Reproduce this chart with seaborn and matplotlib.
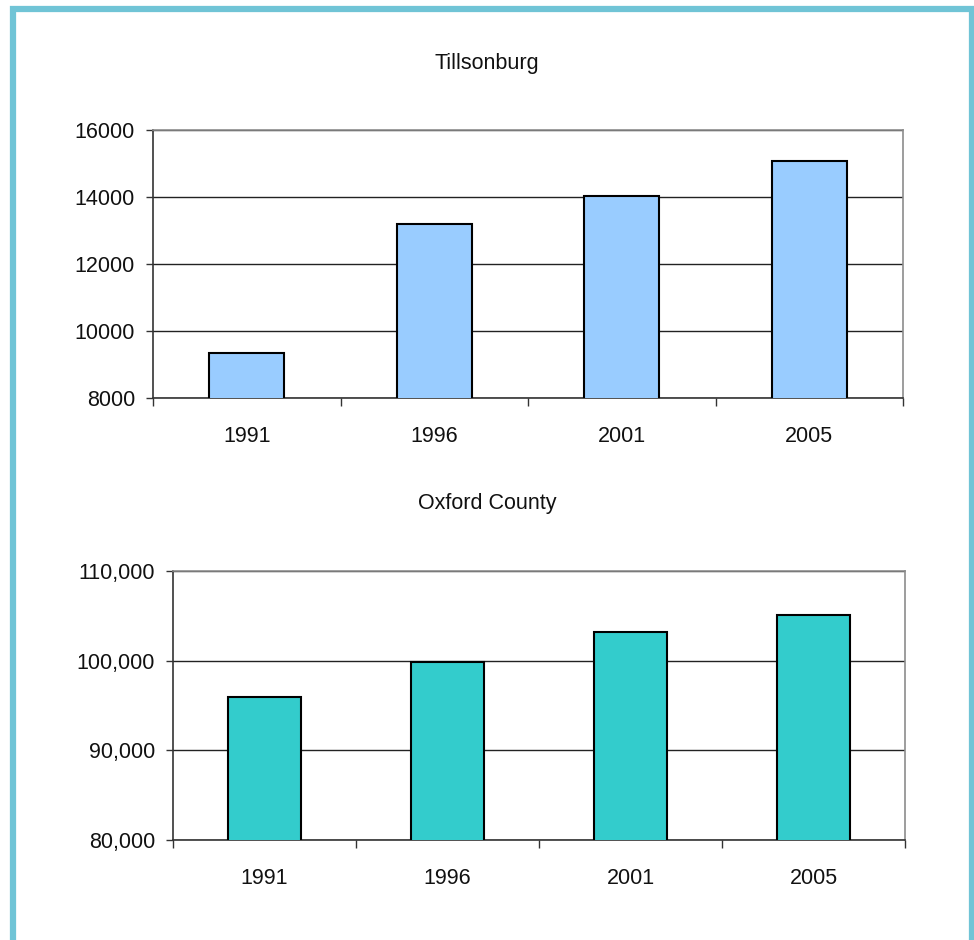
import matplotlib
matplotlib.use("Agg")
import matplotlib.pyplot as plt
import seaborn as sns
import pandas as pd
from matplotlib.patches import Rectangle
from matplotlib.ticker import FuncFormatter

years = ["1991", "1996", "2001", "2005"]
tillsonburg = [9350, 13185, 14040, 15075]
oxford = [96000, 99900, 103150, 105120]
title_top = "Tillsonburg"
title_bottom = "Oxford County"

sns.set_theme(style="white")
plt.rcParams['font.family'] = ['Liberation Sans', 'DejaVu Sans']

fig = plt.figure(figsize=(9.74, 9.40), dpi=100)
fig.patch.set_facecolor("white")

border = Rectangle((13/974, -0.1), (972-13)/974, 1.1 - 9/940, transform=fig.transFigure,
                   fill=False, edgecolor="#70C4D6", linewidth=4.5, zorder=10)
fig.patches.append(border)

def style_axis(ax, ymin, ymax, step, fmt):
    ax.set_ylim(ymin, ymax)
    ax.set_xlim(-0.5, 3.5)
    ax.set_yticks(list(range(ymin, ymax + 1, step)))
    ax.yaxis.set_major_formatter(FuncFormatter(fmt))
    ax.set_xticks([0, 1, 2, 3])
    ax.set_xticklabels(years)
    ax.set_xlabel("")
    ax.set_ylabel("")
    ax.grid(axis="y", color="#222222", linewidth=1.0, zorder=0)
    ax.grid(axis="x", visible=False)
    ax.set_axisbelow(True)
    for s in ["top", "right"]:
        ax.spines[s].set_visible(True)
        ax.spines[s].set_color("#8c8c8c")
        ax.spines[s].set_linewidth(1.2)
    for s in ["left", "bottom"]:
        ax.spines[s].set_color("#333333")
        ax.spines[s].set_linewidth(1.2)
    ax.tick_params(axis="y", which="major", left=True, length=5, width=1, color="#333333",
                   labelsize=15.5, pad=8, direction="out", labelcolor="#111111")
    ax.tick_params(axis="x", which="major", bottom=False, labelsize=15.5, pad=14,
                   labelcolor="#111111")
    ax.set_xticks([-0.5, 0.5, 1.5, 2.5, 3.5], minor=True)
    ax.tick_params(axis="x", which="minor", bottom=True, length=5.5, width=1, color="#333333",
                   direction="out")

ax1 = fig.add_axes([153/974, 1 - 398/940, 750/974, 268/940])
df1 = pd.DataFrame({"year": years, "pop": tillsonburg})
sns.barplot(data=df1, x="year", y="pop", ax=ax1, color="#99CCFF", width=0.4,
            edgecolor="black", linewidth=1.5, saturation=1, zorder=3)
style_axis(ax1, 8000, 16000, 2000, lambda v, p: f"{int(v)}")

ax2 = fig.add_axes([173/974, 1 - 840/940, 732/974, 269/940])
df2 = pd.DataFrame({"year": years, "pop": oxford})
sns.barplot(data=df2, x="year", y="pop", ax=ax2, color="#33CCCC", width=0.4,
            edgecolor="black", linewidth=1.5, saturation=1, zorder=3)
style_axis(ax2, 80000, 110000, 10000, lambda v, p: f"{int(v):,}")

fig.text(487/974, 1 - 63/940, title_top, ha="center", va="center", fontsize=15.5, color="#111111")
fig.text(487/974, 1 - 504/940, title_bottom, ha="center", va="center", fontsize=15.5, color="#111111")

fig.savefig("out.png", dpi=100, facecolor="white")
